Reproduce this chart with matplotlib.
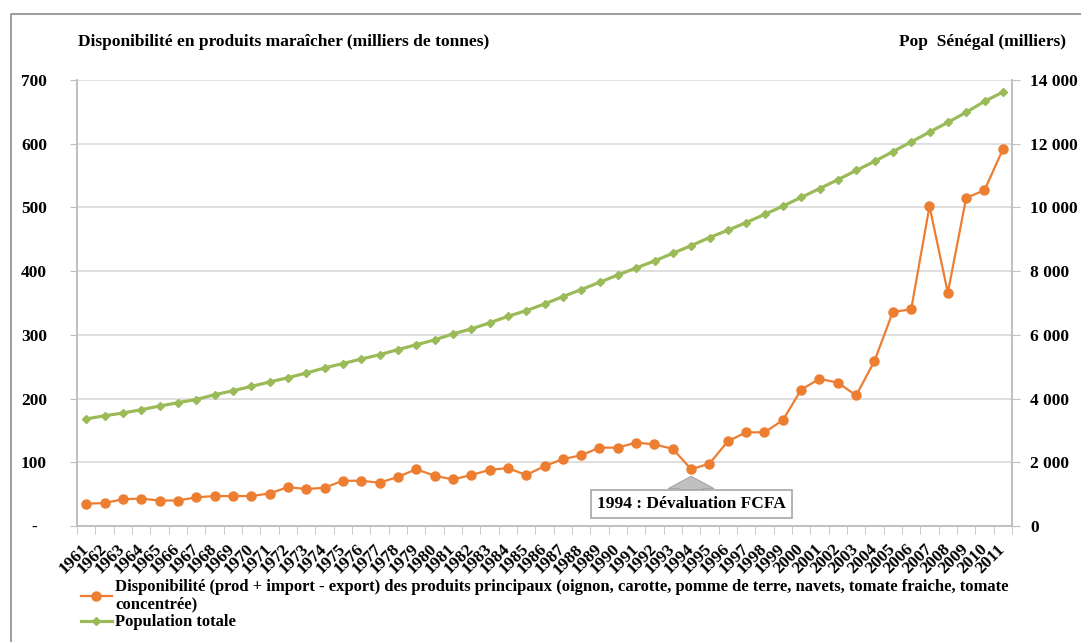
import matplotlib
matplotlib.use("Agg")
import matplotlib.pyplot as plt
from matplotlib.lines import Line2D
from matplotlib.ticker import FixedLocator

plt.rcParams['font.family'] = 'Liberation Serif'
plt.rcParams['font.weight'] = 'bold'

years = [str(y) for y in range(1961, 2012)]

# disponibilité maraîchère, milliers de tonnes
dispo = [35, 36, 42, 43, 40, 40, 45, 47, 47, 47,
         51, 61, 58, 60, 71, 71, 68, 77, 89, 79,
         73, 80, 88, 91, 80, 94, 105, 111, 123, 123,
         131, 128, 121, 89, 98, 133, 147, 147, 166, 214,
         231, 225, 205, 259, 336, 340, 502, 366, 515, 527,
         591]

# population du Sénégal, milliers
pop = [3360, 3460, 3545, 3650, 3765, 3870, 3970, 4120, 4245, 4380,
       4520, 4655, 4800, 4960, 5100, 5240, 5375, 5535, 5690, 5840,
       6030, 6185, 6375, 6580, 6760, 6970, 7200, 7420, 7650, 7880,
       8100, 8320, 8560, 8800, 9055, 9285, 9525, 9780, 10040, 10315,
       10590, 10870, 11160, 11445, 11750, 12055, 12365, 12670, 12985, 13330,
       13620]

left_ticks = [0, 100, 200, 300, 400, 500, 600, 700]
left_labels = ['-'] + [str(v) for v in left_ticks[1:]]
right_ticks = [0, 2000, 4000, 6000, 8000, 10000, 12000, 14000]
right_labels = [f"{v:,}".replace(',', ' ') for v in right_ticks]

lab_dispo = ("Disponibilité (prod + import - export) des produits principaux (oignon, carotte, "
             "pomme de terre, navets, tomate fraiche, tomate\nconcentrée)")
lab_pop = "Population totale"

orange = '#ED7D31'
green = '#9BBB59'
grid_c = '#d9d9d9'
spine_c = '#bfbfbf'

W, H = 1081, 642
fig = plt.figure(figsize=(W / 100, H / 100), dpi=100)
ax = fig.add_axes([77 / W, 1 - 526 / H, (1012 - 77) / W, (526 - 80) / H])
ax2 = ax.twinx()

x = list(range(len(years)))
l1, = ax.plot(x, dispo, color=orange, lw=1.6, marker='o', ms=6.5, zorder=3)
l2, = ax2.plot(x, pop, color=green, lw=2.3, marker='D', ms=4.5, zorder=3)

ax.set_xlim(-0.5, len(years) - 0.5)
ax.set_ylim(0, 700)
ax2.set_ylim(0, 14000)

ax.set_yticks(left_ticks)
ax.set_yticklabels(left_labels, fontsize=12.5, fontweight='bold', ha='center')
ax.tick_params(axis='y', length=5, color=spine_c, pad=26)
ax.yaxis.grid(True, color=grid_c, lw=1.2)
ax.set_axisbelow(True)

ax2.set_yticks(right_ticks)
ax2.set_yticklabels(right_labels, fontsize=12.5, fontweight='bold', ha='left')
ax2.tick_params(axis='y', length=6, color=spine_c, pad=7)

# tick marks between categories, labels on the categories
ax.set_xticks(x)
ax.set_xticklabels(years, fontsize=12.5, fontweight='bold', rotation=45,
                   ha='right', va='center', rotation_mode='anchor')
ax.tick_params(axis='x', which='major', length=0, pad=15)
ax.xaxis.set_minor_locator(FixedLocator([i - 0.5 for i in range(len(years) + 1)]))
ax.tick_params(axis='x', which='minor', length=6, color=spine_c)

for a in (ax, ax2):
    a.spines['top'].set_visible(False)
    for s in ('left', 'right', 'bottom'):
        a.spines[s].set_color(spine_c)
        a.spines[s].set_linewidth(1.2)

# flèche de la dévaluation
ax.annotate("1994 : Dévaluation FCFA", xy=(33, 78), xytext=(33, 34),
            ha='center', va='center', fontsize=12.5, fontweight='bold',
            bbox=dict(boxstyle='square,pad=0.35', fc='white', ec='#a6a6a6', lw=1.2),
            arrowprops=dict(arrowstyle='simple,head_length=0.7,head_width=2.6,tail_width=1.4',
                            fc='#c0c0c0', ec='#a6a6a6', lw=0.8, shrinkA=0, shrinkB=0),
            zorder=4)

fig.text(78 / W, 1 - 42 / H, "Disponibilité en produits maraîcher (milliers de tonnes)",
         fontsize=12.5, fontweight='bold', ha='left', va='center')
fig.text(1066 / W, 1 - 42 / H, "Pop  Sénégal (milliers)",
         fontsize=12.5, fontweight='bold', ha='right', va='center')

leg = fig.legend([l1, l2], [lab_dispo, lab_pop], loc='upper left',
                 bbox_to_anchor=(81 / W, 1 - 579 / H), bbox_transform=fig.transFigure,
                 frameon=False, borderpad=0, borderaxespad=0, handlelength=1.85,
                 handletextpad=0.2, labelspacing=0.12,
                 prop={'weight': 'bold', 'size': 12})
for t in leg.get_texts():
    t.set_linespacing(1.12)

# cadre du graphique
fig.add_artist(Line2D([11 / W, 11 / W, 1], [0, 1 - 14 / H, 1 - 14 / H],
                      color='#8c8c8c', lw=1.2, transform=fig.transFigure))

fig.savefig('out.png', dpi=100, facecolor='white')
